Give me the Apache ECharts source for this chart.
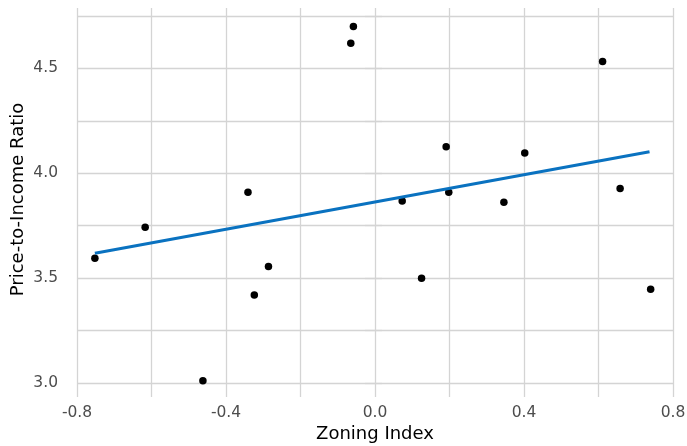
<!DOCTYPE html>
<html>
<head>
<meta charset="utf-8">
<script src="https://cdn.jsdelivr.net/npm/echarts@6/dist/echarts.min.js"></script>
<style>
html,body{margin:0;padding:0;background:#fff;}
#chart{width:687px;height:446px;}
</style>
</head>
<body>
<div id="chart"></div>
<script>
// Data
const zoningIndex = [-0.752, -0.617, -0.462, -0.341, -0.324, -0.286, -0.065, -0.058, 0.073, 0.125, 0.191, 0.198, 0.346, 0.402, 0.611, 0.658, 0.740];
const priceToIncome = [3.595, 3.743, 3.011, 3.910, 3.420, 3.556, 4.620, 4.700, 3.868, 3.500, 4.127, 3.909, 3.862, 4.097, 4.533, 3.928, 3.447];
const fitX = [-0.752, 0.737];
const fitY = [3.619, 4.103];
const xTickLabels = ['-0.8', '-0.4', '0.0', '0.4', '0.8'];
const yTickLabels = ['3.0', '3.5', '4.0', '4.5'];

const gridColor = '#d4d4d4';
const font = 'DejaVu Sans';

const chart = echarts.init(document.getElementById('chart'), null, {renderer: 'canvas'});

function fmtX(v) {
  const s = (Math.round(v * 10) / 10).toFixed(1);
  return xTickLabels.includes(s) ? s : '';
}
function fmtY(v) {
  const s = (Math.round(v * 100) / 100).toFixed(1);
  return (Math.abs(v * 2 - Math.round(v * 2)) < 1e-6 && yTickLabels.includes(s)) ? s : '';
}

const option = {
  backgroundColor: '#ffffff',
  animation: false,
  grid: {left: 77, right: 14, top: 16, bottom: 63, containLabel: false, outerBoundsMode: 'none'},
  xAxis: [{
    type: 'value', min: -0.8, max: 0.8, interval: 0.2, position: 'bottom',
    name: 'Zoning Index', nameLocation: 'middle', nameGap: 42, nameMoveOverlap: false,
    nameTextStyle: {fontFamily: font, fontSize: 18, color: '#000'},
    axisLine: {show: false},
    axisTick: {show: true, length: 14, lineStyle: {color: gridColor, width: 1.3}},
    axisLabel: {fontFamily: font, fontSize: 15.5, color: '#4d4d4d', margin: 22, formatter: fmtX},
    splitLine: {show: true, lineStyle: {color: gridColor, width: 1.3}}
  }, {
    type: 'value', min: -0.8, max: 0.8, interval: 0.2, position: 'top',
    axisLine: {show: false},
    axisTick: {show: true, length: 8, lineStyle: {color: gridColor, width: 1.3}},
    axisLabel: {show: false},
    splitLine: {show: false}
  }],
  yAxis: [{
    type: 'value', min: 3.0, max: 4.75, interval: 0.25, position: 'left',
    name: 'Price-to-Income Ratio', nameLocation: 'middle', nameGap: 50, nameMoveOverlap: false,
    nameTextStyle: {fontFamily: font, fontSize: 18, color: '#000'},
    axisLine: {show: false},
    axisTick: {show: true, length: 10, lineStyle: {color: gridColor, width: 1.3}},
    axisLabel: {fontFamily: font, fontSize: 15.5, color: '#4d4d4d', margin: 19, formatter: fmtY},
    splitLine: {show: true, lineStyle: {color: gridColor, width: 1.3}}
  }, {
    type: 'value', min: 3.0, max: 4.75, interval: 0.25, position: 'right',
    axisLine: {show: false},
    axisTick: {show: true, length: 7, lineStyle: {color: gridColor, width: 1.3}},
    axisLabel: {show: false},
    splitLine: {show: false}
  }],
  series: [{
    type: 'scatter',
    xAxisIndex: 0, yAxisIndex: 0,
    symbol: 'circle', symbolSize: 7.5,
    itemStyle: {color: '#000000', opacity: 1},
    data: zoningIndex.map((x, i) => [x, priceToIncome[i]]),
    z: 3
  }, {
    type: 'line',
    xAxisIndex: 0, yAxisIndex: 0,
    showSymbol: false, symbol: 'none',
    lineStyle: {color: '#0a72c0', width: 3},
    data: fitX.map((x, i) => [x, fitY[i]]),
    z: 4
  }]
};
chart.setOption(option);
</script>
</body>
</html>
